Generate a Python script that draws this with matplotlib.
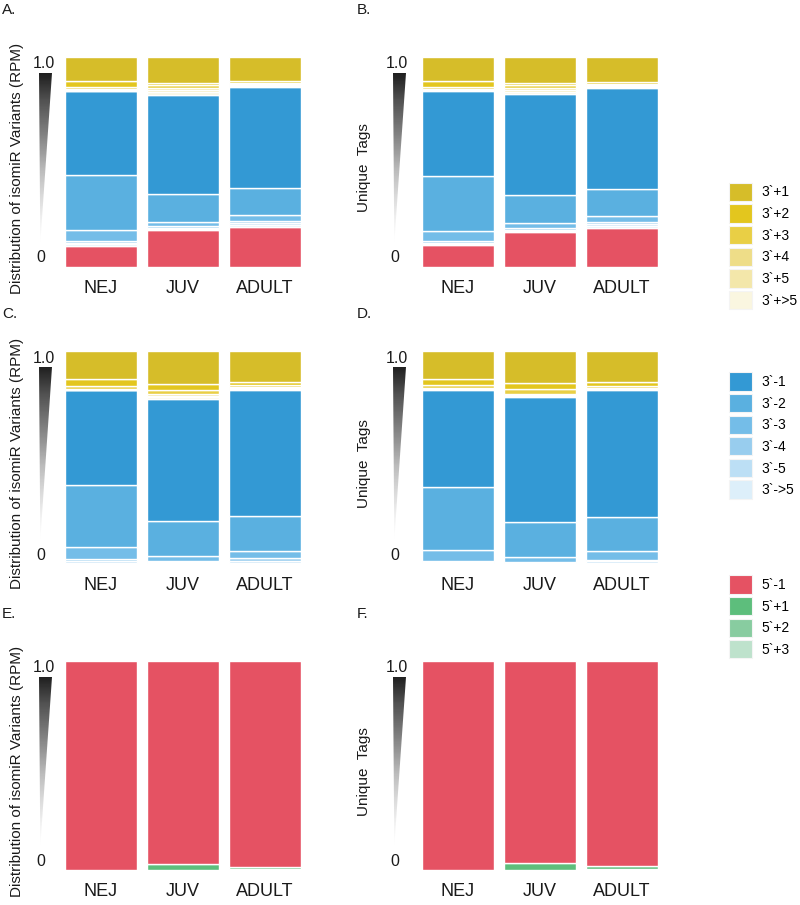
import numpy as np
import matplotlib
matplotlib.use('Agg')
import matplotlib.pyplot as plt
from matplotlib.patches import Patch, Polygon

plt.rcParams['font.family'] = ['Liberation Sans', 'DejaVu Sans']

stages = ['NEJ', 'JUV', 'ADULT']

# variant names, in stacking order from top of bar to bottom
var_3p = ['3`+1', '3`+2', '3`+3', '3`+4', '3`+5', '3`+>5',
          '3`-1', '3`-2', '3`-3', '3`-4', '3`-5', '3`->5']
var_5p = ['5`-1', '5`+1', '5`+2', '5`+3']
var_all = var_3p + ['5`-1']

col_3p = ['#D6BD29', '#E3C61E', '#E9CF45', '#EEDD88', '#F3E7AA', '#FAF6E0',
          '#3399D4', '#5AB0E0', '#74BDE8', '#98CDEE', '#BCDFF5', '#DDEFFA']
col_5p = ['#E55263', '#5DBE7C', '#88CCA0', '#BEE2CC']

# A: all variants, RPM  (rows = stages, cols = var_all)
a_nej = [.115, .028, .010, .004, .003, .002, .400, .261, .051, .010, .008, .006, .102]
a_juv = [.122, .012, .012, .012, .010, .014, .470, .133, .019, .008, .007, .005, .176]
a_adult = [.114, .010, .006, .004, .004, .004, .481, .130, .028, .010, .010, .008, .191]
# B: all variants, unique tags
b_nej = [.115, .028, .009, .004, .002, .002, .408, .261, .047, .008, .007, .005, .104]
b_juv = [.123, .012, .012, .011, .009, .010, .482, .132, .024, .008, .006, .005, .166]
b_adult = [.118, .010, .007, .005, .004, .004, .479, .131, .027, .012, .010, .009, .184]
# C: 3' variants, RPM
c_nej = [.131, .033, .014, .003, .002, .001, .443, .295, .056, .010, .007, .005]
c_juv = [.153, .028, .023, .008, .006, .006, .573, .164, .023, .007, .005, .004]
c_adult = [.145, .016, .008, .006, .003, .003, .593, .164, .034, .012, .009, .007]
# D: 3' variants, unique tags
d_nej = [.130, .031, .014, .003, .002, .001, .458, .295, .050, .007, .005, .004]
d_juv = [.150, .027, .024, .007, .005, .004, .585, .163, .025, .005, .003, .002]
d_adult = [.146, .019, .007, .005, .003, .002, .596, .163, .038, .009, .007, .005]
# E: 5' variants, RPM
e_nej = [1.0, 0.0, 0.0, 0.0]
e_juv = [.970, .028, .001, .001]
e_adult = [.985, .012, .002, .001]
# F: 5' variants, unique tags
f_nej = [1.0, 0.0, 0.0, 0.0]
f_juv = [.968, .030, .001, .001]
f_adult = [.983, .014, .002, .001]

W, H = 800, 905
fig = plt.figure(figsize=(W / 100, H / 100), dpi=100)


def box(l, t, r, b):
    return [l / W, 1 - b / H, (r - l) / W, (b - t) / H]


def stacked(ax, rows, colors):
    vals = np.array(rows)          # stages x variants, top -> bottom
    x = np.arange(len(stages))
    bottom = np.zeros(len(stages))
    for j in range(vals.shape[1] - 1, -1, -1):
        ax.bar(x, vals[:, j], 0.88, bottom=bottom, color=colors[j],
               edgecolor='white', linewidth=1.0)
        bottom += vals[:, j]
    ax.set_xlim(-0.44, 2.44)
    ax.set_ylim(0, 1)
    ax.set_xticks(x, stages, fontsize=13, color='#1a1a1a')
    ax.tick_params(axis='x', length=0, pad=9)
    ax.set_yticks([])
    for s in ax.spines.values():
        s.set_visible(False)


def wedge(l, t, r, b):
    # black-to-white gradient triangle used as the y axis
    tax = fig.add_axes(box(l, t, r, b))
    grad = np.linspace(0, 1, 256).reshape(-1, 1)
    im = tax.imshow(grad, cmap='Greys_r', aspect='auto', extent=[0, 1, 0, 1],
                    vmin=-0.12, vmax=1.0)
    tri = Polygon([[0, 1], [1, 1], [0.1, 0]], closed=True, transform=tax.transAxes)
    im.set_clip_path(tri)
    tax.axis('off')


cols = [(65, 300.5), (422, 658)]
rows = [(57, 267), (351, 564), (661, 870)]
letters = [['A.', 'B.'], ['C.', 'D.'], ['E.', 'F.']]
letter_y = [10, 314, 614]
ylabels = ['Distribution of isomiR Variants (RPM)', 'Unique  Tags']
ylabel_x = [17, 364]
tick_x = [(44, 40.5), (397, 394.5)]
panel_rows = [[[a_nej, a_juv, a_adult], [b_nej, b_juv, b_adult]],
              [[c_nej, c_juv, c_adult], [d_nej, d_juv, d_adult]],
              [[e_nej, e_juv, e_adult], [f_nej, f_juv, f_adult]]]
panel_cols = [col_3p + [col_5p[0]], col_3p, col_5p]

for i, (t, b) in enumerate(rows):
    for k, (l, r) in enumerate(cols):
        ax = fig.add_axes(box(l, t, r, b))
        stacked(ax, panel_rows[i][k], panel_cols[i])
        tl = l - (26 if k == 0 else 29)
        wedge(tl, t + 16, tl + 13, b - 24)
        fig.text(tick_x[k][0] / W, 1 - (t + 7) / H, '1.0', fontsize=11.5,
                 ha='center', va='center', color='#1a1a1a')
        fig.text(tick_x[k][1] / W, 1 - (b - 9) / H, '0', fontsize=11.5,
                 ha='center', va='center', color='#1a1a1a')
        fig.text(ylabel_x[k] / W, 1 - ((t + b) / 2 + 6) / H, ylabels[k],
                 rotation=90, fontsize=11, ha='center', va='center',
                 color='#1a1a1a')
        fig.text((2 if k == 0 else 357) / W, 1 - letter_y[i] / H, letters[i][k],
                 fontsize=11, ha='left', va='center', color='#1a1a1a')

# legends, one block per variant group
groups = [(var_3p[:6], col_3p[:6], 184.7),
          (var_3p[6:], col_3p[6:], 374.3),
          (var_5p, col_5p, 577.3)]
for names, colors, top in groups:
    handles = [Patch(facecolor=c, edgecolor='#f4f4f4', linewidth=0.8) for c in colors]
    fig.legend(handles, names, loc='upper left',
               bbox_to_anchor=(729 / W, 1 - (top - 2) / H), frameon=False,
               fontsize=10, handlelength=1.65, handleheight=1.65,
               handletextpad=0.7, labelspacing=0.24, borderpad=0,
               borderaxespad=0)

fig.savefig('out.png', dpi=100)
